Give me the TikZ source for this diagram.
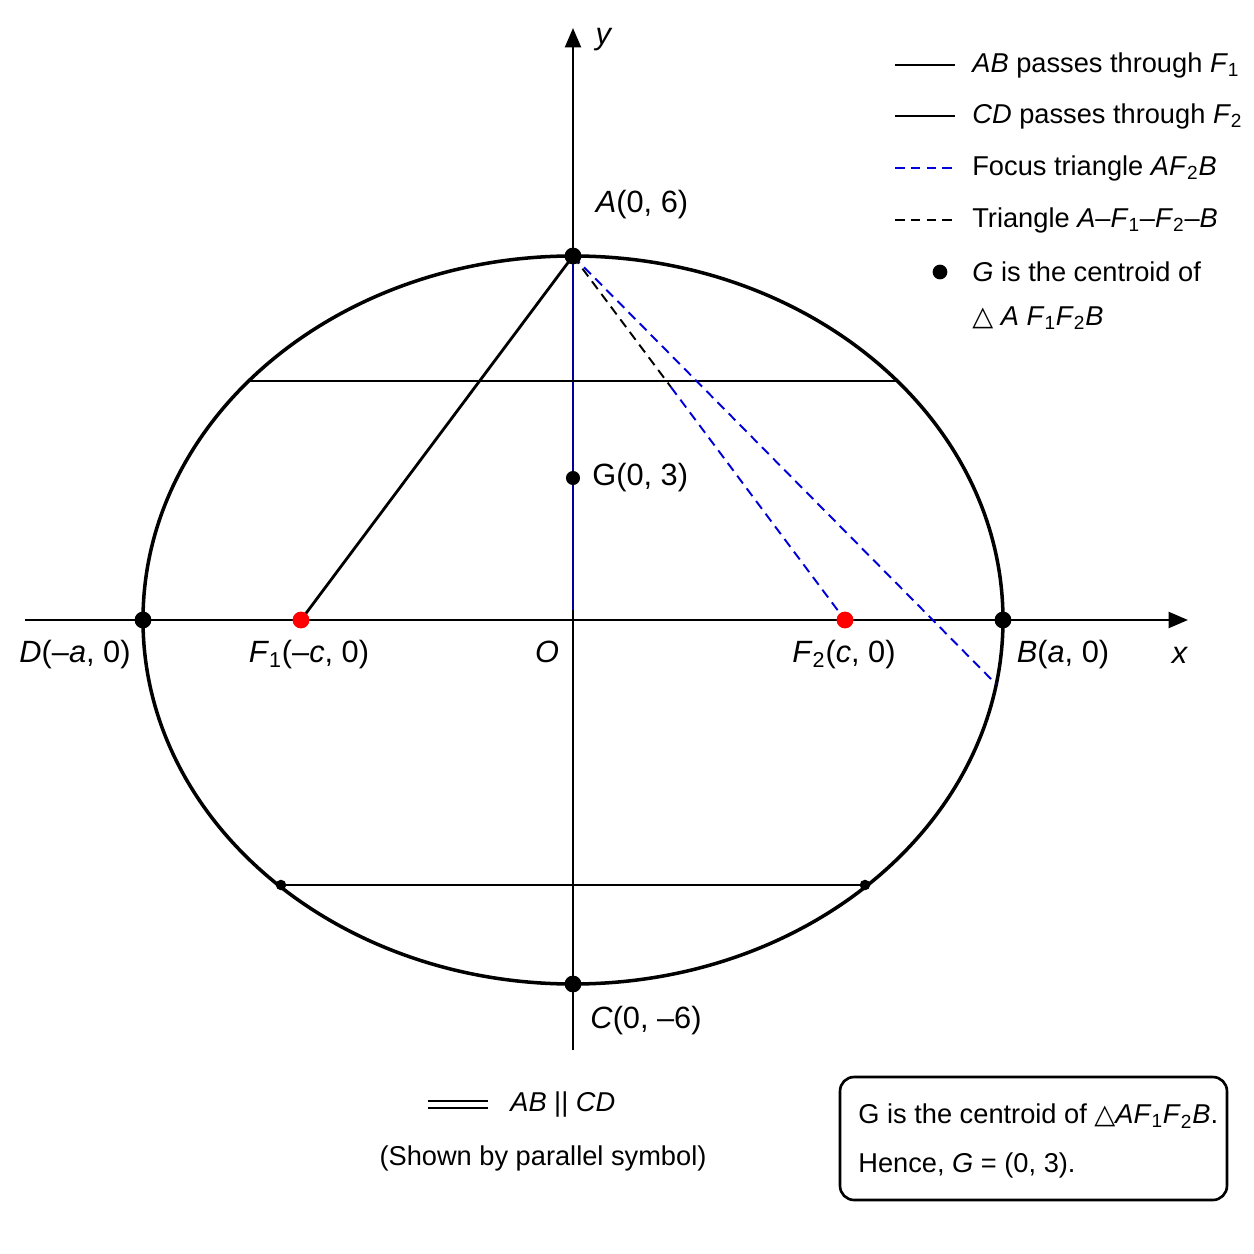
\documentclass[tikz,border=0pt]{standalone}
\usepackage{fontspec}
\setmainfont{Liberation Sans}
\newfontfamily\symfont{DejaVu Sans}
\usetikzlibrary{arrows.meta,calc,positioning}

\newcommand{\tri}{{\symfont △}}
\newcommand{\sub}[1]{\textsubscript{#1}}

\begin{document}
\begin{tikzpicture}[x=0.02cm,y=0.02cm,
  every node/.style={font=\fontsize{17.5}{21}\selectfont},
  axis/.style={line width=1.5pt,-{Triangle[length=11pt,width=9pt]}},
  curve/.style={line width=2pt},
  chord/.style={line width=1.6pt},
  bluedash/.style={blue!85!black,line width=1.1pt,dash pattern=on 5.5pt off 3.5pt},
  blackdash/.style={black,line width=1.1pt,dash pattern=on 5.5pt off 3.5pt},
  legtext/.style={anchor=west,inner sep=0pt,font=\fontsize{15.5}{19}\selectfont}]
\useasboundingbox (-573,-634) rectangle (681,620);

% points of the ellipse
\coordinate (O) at (0,0);
\coordinate (A) at (0,364);
\coordinate (C) at (0,-364);
\coordinate (D) at (-430,0);
\coordinate (B) at (430,0);
\coordinate (F1) at (-272,0);
\coordinate (F2) at (272,0);
\coordinate (G) at (0,142);
\coordinate (P) at (423,-64);
\coordinate (S) at ($(A)!0.36!(F2)$);
\coordinate (T1) at (-324,239);
\coordinate (T2) at (324,239);
\coordinate (L1) at (-292,-265);
\coordinate (L2) at (292,-265);

% axes
\coordinate (xl) at (-548,0);
\coordinate (xr) at (615,0);
\coordinate (yb) at (0,-430);
\coordinate (yt) at (0,592);
\draw[curve] (O) ellipse [x radius=430, y radius=364];
\draw[axis] (xl) -- (xr);
\draw[axis] (yb) -- (yt);
\draw[blue!60!black,line width=0.7pt] (A) -- ($(O)+(0,10)$);

% chords and triangles
\draw[chord] (T1) -- (T2);
\draw[chord] (L1) -- (L2);
\draw[chord] (A) -- (F1);
\draw[blackdash] (A) -- (S);
\draw[bluedash] (S) -- (F2);
\draw[bluedash] (A) -- (P);

\foreach \p in {A,B,C,D} \fill (\p) circle (4.8pt);
\fill (G) circle (4pt);
\fill (L1) circle (3pt);
\fill (L2) circle (3pt);
\fill[red] (F1) circle (4.8pt);
\fill[red] (F2) circle (4.8pt);

% labels
\node (ylab) at (31,580) {\textit{y}};
\node (xlab) at (607,-35) {\textit{x}};
\node (Alab) at (69,415) {\textit{A}(0, 6)};
\node[anchor=west,inner sep=0pt] (Glab) at (19,142) {G(0, 3)};
\node (Dlab) at (-498,-35) {\textit{D}(–\textit{a}, 0)};
\node (F1lab) at (-264,-35) {\textit{F}\sub{1}(–\textit{c}, 0)};
\node (Olab) at (-26,-32) {\textit{O}};
\node (F2lab) at (271,-35) {\textit{F}\sub{2}(\textit{c}, 0)};
\node (Blab) at (490,-35) {\textit{B}(\textit{a}, 0)};
\node (Clab) at (73,-401) {\textit{C}(0, –6)};

% legend
\coordinate (k1a) at (322,555); \coordinate (k1b) at (382,555);
\coordinate (k2a) at (322,504); \coordinate (k2b) at (382,504);
\coordinate (k3a) at (322,452); \coordinate (k3b) at (382,452);
\coordinate (k4a) at (322,400); \coordinate (k4b) at (382,400);
\coordinate (k5) at (367,348);
\draw[line width=1.5pt] (k1a) -- (k1b);
\draw[line width=1.5pt] (k2a) -- (k2b);
\draw[bluedash] (k3a) -- (k3b);
\draw[blackdash] (k4a) -- (k4b);
\fill (k5) circle (4.2pt);
\node[legtext] (t1) at (399,555) {\textit{AB} passes through \textit{F}\sub{1}};
\node[legtext] (t2) at (399,504) {\textit{CD} passes through \textit{F}\sub{2}};
\node[legtext] (t3) at (399,452) {Focus triangle \textit{AF}\sub{2}\textit{B}};
\node[legtext] (t4) at (399,400) {Triangle \textit{A}–\textit{F}\sub{1}–\textit{F}\sub{2}–\textit{B}};
\node[legtext] (t5) at (399,348) {\textit{G} is the centroid of};
\node[legtext] (t6) at (399,302) {\tri\ \textit{A F}\sub{1}\textit{F}\sub{2}\textit{B}};

% parallel note
\coordinate (p1a) at (-145,-481); \coordinate (p1b) at (-85,-481);
\coordinate (p2a) at (-145,-488); \coordinate (p2b) at (-85,-488);
\draw[line width=1.4pt] (p1a) -- (p1b);
\draw[line width=1.4pt] (p2a) -- (p2b);
\node[legtext] (par) at (-63,-485) {\textit{AB} || \textit{CD}};
\node[font=\fontsize{15.5}{19}\selectfont] (shown) at (-30,-538) {(Shown by parallel symbol)};

% result box
\node[draw,line width=1.5pt,rounded corners=8pt,minimum width=7.74cm,minimum height=2.46cm] (box) at (460.5,-518.5) {};
\node[legtext] (b1) at (285,-496) {G is the centroid of \tri\textit{AF}\sub{1}\textit{F}\sub{2}\textit{B}.};
\node[legtext] (b2) at (285,-545) {Hence, \textit{G} = (0, 3).};
\end{tikzpicture}
\end{document}
